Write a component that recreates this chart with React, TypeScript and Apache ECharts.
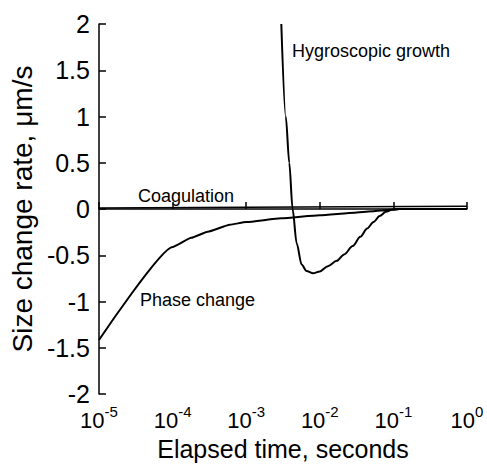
import React, { useEffect, useRef } from "react";
import * as echarts from "echarts";

// Elapsed time (s) and size change rate (µm/s)
const phaseTime = [1e-5, 1e-4, 1.8e-4, 3e-4, 6e-4, 1e-3, 3e-3, 1e-2, 3e-2, 7e-2, 1.2e-1, 1];
const phaseRate = [-1.415, -0.41, -0.31, -0.245, -0.17, -0.14, -0.1, -0.067, -0.04, -0.015, 0, 0];

const hygroTime = [3.0e-3, 3.45e-3, 3.85e-3, 4.27e-3, 4.85e-3, 5.66e-3, 6.6e-3, 8.1e-3, 1.0e-2, 1.29e-2, 1.7e-2, 2.14e-2, 2.8e-2, 3.55e-2, 4.4e-2, 5.37e-2, 6.5e-2, 7.9e-2, 9.5e-2, 1.2e-1, 1];
const hygroRate = [2, 1.0, 0.5, 0, -0.37, -0.6, -0.67, -0.695, -0.675, -0.617, -0.56, -0.49, -0.4, -0.3, -0.21, -0.14, -0.075, -0.03, -0.008, 0, 0];

const coagTime = [1e-5, 1e-3, 1];
const coagRate = [0.01, 0.02, 0.03];

const xTickExponents = [-5, -4, -3, -2, -1, 0];
const yTicks = [-2, -1.5, -1, -0.5, 0, 0.5, 1, 1.5, 2];

const annotations = [
  { text: "Hygroscopic growth", x: 292, y: 51 },
  { text: "Coagulation", x: 138, y: 196 },
  { text: "Phase change", x: 140, y: 300 },
];

const FONT = "'Liberation Sans', Arial, sans-serif";

const pairs = (xs: number[], ys: number[]) => xs.map((x, i) => [x, ys[i]]);

export default function App() {
  const ref = useRef<HTMLDivElement>(null);
  useEffect(() => {
    if (!ref.current) return;
    const chart = echarts.init(ref.current, undefined, { renderer: "svg" });
    const lineStyle = (w: number) => ({ color: "#000", width: w });
    chart.setOption({
      animation: false,
      backgroundColor: "#fff",
      grid: { left: 91, right: 20, top: 24, bottom: 66, containLabel: false },
      xAxis: {
        type: "log",
        logBase: 10,
        min: Math.pow(10, xTickExponents[0]),
        max: Math.pow(10, xTickExponents[xTickExponents.length - 1]),
        name: "Elapsed time, seconds",
        nameLocation: "middle",
        nameGap: 36,
        nameTextStyle: { fontFamily: FONT, fontSize: 25, color: "#000" },
        axisLine: { show: true, lineStyle: { color: "#000", width: 1.5 } },
        axisTick: { show: true, inside: true, length: 7, lineStyle: { color: "#000", width: 1.5 } },
        minorTick: { show: false },
        splitLine: { show: false },
        axisLabel: {
          margin: 10,
          formatter: (v: number) => `{b|10}{s|${Math.round(Math.log10(v))}}`,
          rich: {
            b: { fontFamily: FONT, fontSize: 22, lineHeight: 32, color: "#000" },
            s: { fontFamily: FONT, fontSize: 15, lineHeight: 15, verticalAlign: "top", color: "#000" },
          },
        },
      },
      yAxis: {
        type: "value",
        min: yTicks[0],
        max: yTicks[yTicks.length - 1],
        interval: 0.5,
        name: "Size change rate, \u03bcm/s",
        nameLocation: "middle",
        nameGap: 51,
        nameTextStyle: { fontFamily: FONT, fontSize: 28, color: "#000" },
        axisLine: { show: true, lineStyle: { color: "#000", width: 1.5 } },
        axisTick: { show: true, inside: true, length: 7, lineStyle: { color: "#000", width: 1.5 } },
        splitLine: { show: false },
        axisLabel: { margin: 9, fontFamily: FONT, fontSize: 25, color: "#000" },
      },
      series: [
        {
          type: "line",
          data: pairs(coagTime, coagRate),
          showSymbol: false,
          lineStyle: lineStyle(1.5),
          z: 2,
        },
        {
          type: "line",
          data: pairs(phaseTime, phaseRate),
          showSymbol: false,
          smooth: 0.15,
          smoothMonotone: "x",
          lineStyle: lineStyle(2),
          z: 3,
        },
        {
          type: "line",
          data: pairs(hygroTime, hygroRate),
          showSymbol: false,
          smooth: 0.3,
          smoothMonotone: "x",
          lineStyle: lineStyle(2),
          z: 4,
        },
      ],
      graphic: annotations.map((a) => ({
        type: "text",
        x: a.x,
        y: a.y,
        style: {
          text: a.text,
          fontFamily: FONT,
          fontSize: 18,
          fill: "#000",
          verticalAlign: "middle",
          textAlign: "left",
        },
      })),
    });
    return () => chart.dispose();
  }, []);
  return <div ref={ref} style={{ width: 487, height: 466, position: "absolute", left: 0, top: 0 }} />;
}
